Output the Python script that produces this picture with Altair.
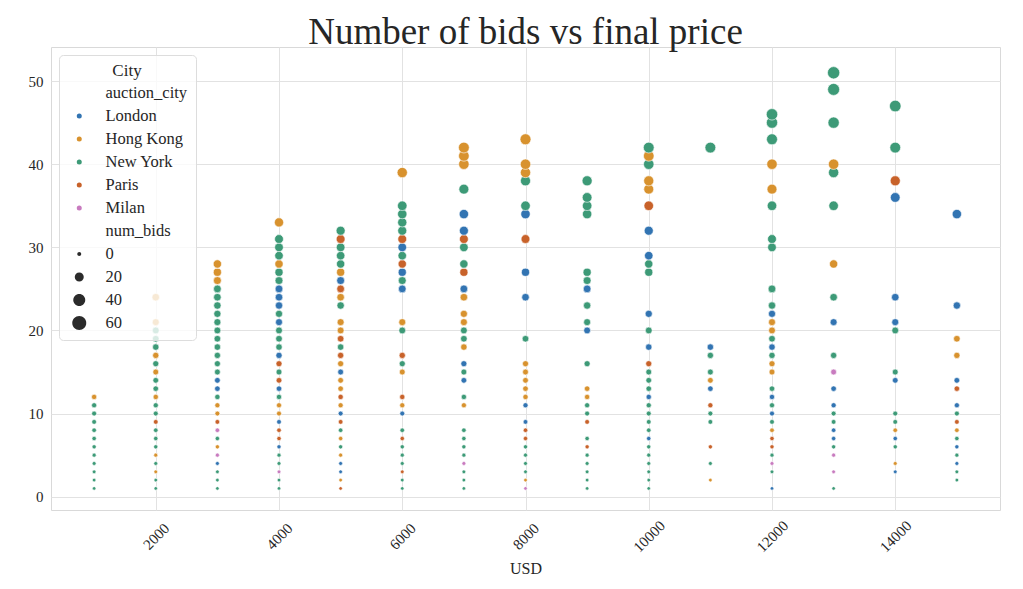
import altair as alt
import pandas as pd

# ---------------- data ----------------
prices = [1000, 2000, 3000, 4000, 5000, 6000, 7000, 8000,
          9000, 10000, 11000, 12000, 13000, 14000, 15000]

bids_by_price = [
    list(range(1, 13)),
    list(range(1, 22)) + [24],
    list(range(1, 29)),
    list(range(1, 32)) + [33],
    list(range(1, 22)) + list(range(23, 33)),
    [1, 2, 3, 4, 5, 6, 7, 8, 10, 11, 12, 15, 16, 17, 20, 21, 25, 26, 27, 28, 29, 30, 31, 32, 33, 34, 35, 39],
    [1, 2, 3, 4, 5, 6, 7, 8, 11, 12, 14, 15, 16, 18, 19, 20, 21, 22, 24, 25, 27, 28, 30, 31, 32, 34, 37, 40, 41, 42],
    [1, 2, 3, 4, 5, 6, 7, 8, 9, 11, 12, 13, 14, 15, 16, 19, 24, 27, 31, 34, 35, 38, 39, 40, 43],
    [1, 2, 3, 4, 5, 6, 7, 9, 10, 11, 12, 13, 16, 20, 21, 23, 25, 26, 27, 34, 35, 36, 38],
    list(range(1, 17)) + [18, 20, 22, 27, 28, 29, 32, 35, 37, 38, 40, 41, 42],
    [2, 4, 6, 9, 10, 11, 13, 14, 15, 17, 18, 42],
    [1, 3, 4, 5, 6, 7, 8, 9, 10, 11, 12, 13, 15, 16, 17, 18, 19, 20, 21, 22, 23, 25, 30, 31, 35, 37, 40, 43, 45, 46],
    [1, 3, 5, 6, 7, 8, 9, 10, 11, 13, 15, 17, 21, 24, 28, 35, 39, 40, 45, 49, 51],
    [3, 4, 6, 7, 8, 9, 10, 14, 15, 20, 21, 24, 36, 38, 42, 47],
    [2, 3, 4, 5, 6, 7, 8, 9, 10, 11, 13, 14, 17, 19, 23, 34],
]

# city code per point (L London, H Hong Kong, N New York, P Paris, M Milan)
cities_by_price = [
    "NNNNNNNNNNNH",
    "NNHNHNNNPNNHNNHNHNNNHH",
    "NNNLMHNMPHHNLL" + "N" * 11 + "HHH",
    "NNMNNLPPLHHNLPNPLNNNLNLLLNNHNNNH",
    "PHLLHNHNPLHPHHLHPNPHH" + "NHPLHNNNPN",
    "NNPNNNPNLHPHNPNHLNLPNLPNNNNH",
    "NNNMNNNNHNLNLHNNHHHLPNNPLLNHHH",
    "MHNNNNPPLLHHHHHNLLPLNNHHH",
    "NNNNNPNPNNHHNLNNLNNNNNN",
    "NNNNNNLNNNNLNNNP" + "LNLNNLLPHHNHN",
    "HNPNNPLHNNLN",
    "LNMNPPHNLNLNHHNLNHHLNNNNNHHNNN",
    "NMMNLLNNLLMNLNHNNHNNN",
    "LHNLHNNLNNLLLPNN",
    "NNLNLNHPNLPLHHLL",
]

city_names = {"L": "London", "H": "Hong Kong", "N": "New York", "P": "Paris", "M": "Milan"}
cities = ["London", "Hong Kong", "New York", "Paris", "Milan"]
city_colors = ["#3274b2", "#d8922e", "#3d9a77", "#c8622a", "#c87bbf"]
size_legend_values = ["0", "20", "40", "60"]
size_legend_radius = [0.8, 1.8, 2.4, 2.8]   # legend circle radius, in symbol units

x_ticks = [2000, 4000, 6000, 8000, 10000, 12000, 14000]
y_ticks = [0, 10, 20, 30, 40, 50]

rows = []
for p, bl, cl in zip(prices, bids_by_price, cities_by_price):
    for b, c in zip(bl, cl):
        rows.append({"price": p, "num_bids": b, "auction_city": city_names[c]})
df = pd.DataFrame(rows)


def circle_path(r):
    return f"M {-r},0 A {r},{r} 0 1,1 {r},0 A {r},{r} 0 1,1 {-r},0 Z"


# one legend box: sub-headings get an invisible symbol, sizes get grey circles
legend_domain = ["auction_city"] + cities + ["num_bids"] + size_legend_values
legend_colors = ["transparent"] + city_colors + ["transparent"] + ["#2b2b2b"] * 4
legend_shapes = ["circle"] * 7 + [circle_path(r) for r in size_legend_radius]

FONT = "Liberation Serif"
TXT = "#262626"

chart = alt.Chart(df).mark_point(filled=True, opacity=1, stroke="white", strokeWidth=0.6).encode(
    x=alt.X("price:Q",
            scale=alt.Scale(domain=[300, 15700], nice=False, zero=False),
            axis=alt.Axis(values=x_ticks, title="USD", labelAngle=315, format="d",
                          labelAlign="center", labelBaseline="middle",
                          labelPadding=26, titlePadding=6)),
    y=alt.Y("num_bids:Q",
            scale=alt.Scale(domain=[-1.6, 54.1], nice=False, zero=False),
            axis=alt.Axis(values=y_ticks, title=None, labelPadding=8)),
    color=alt.Color("auction_city:N",
                    scale=alt.Scale(domain=legend_domain, range=legend_colors),
                    legend=alt.Legend(
                        title="City", orient="top-left", offset=8,
                        titleAnchor="middle", titleFont=FONT, titleFontSize=17,
                        titleFontWeight="normal", titleColor=TXT, titlePadding=5,
                        labelFont=FONT, labelFontSize=16.5, labelColor=TXT,
                        symbolSize=25, symbolStrokeWidth=0, symbolOpacity=1,
                        symbolOffset=4,
                        fillColor="rgba(255,255,255,0.8)", strokeColor="#dddddd",
                        cornerRadius=4, padding=8, rowPadding=6, clipHeight=16,
                        labelOffset=18,
                    )),
    shape=alt.Shape("auction_city:N",
                    scale=alt.Scale(domain=legend_domain, range=legend_shapes)),
    size=alt.Size("num_bids:Q",
                  scale=alt.Scale(type="pow", exponent=1.5, domain=[0, 60], range=[12, 190]),
                  legend=None),
).properties(
    width=949, height=463,
    title=alt.TitleParams("Number of bids vs final price", font=FONT, fontSize=37,
                          fontWeight="normal", color=TXT, anchor="middle", offset=-5),
    autosize=alt.AutoSizeParams(type="none"),
    padding={"left": 43, "top": 39, "right": 15, "bottom": 70},
    background="white",
).configure_view(
    stroke="#d9d9d9", strokeWidth=1
).configure_axis(
    grid=True, gridColor="#e2e2e2", domain=False, ticks=False, tickSize=0,
    labelFont=FONT, labelFontSize=15, labelColor=TXT,
    titleFont=FONT, titleFontSize=16, titleFontWeight="normal", titleColor=TXT,
)

chart.save("out.html", embed_options={"renderer": "svg", "actions": False})
